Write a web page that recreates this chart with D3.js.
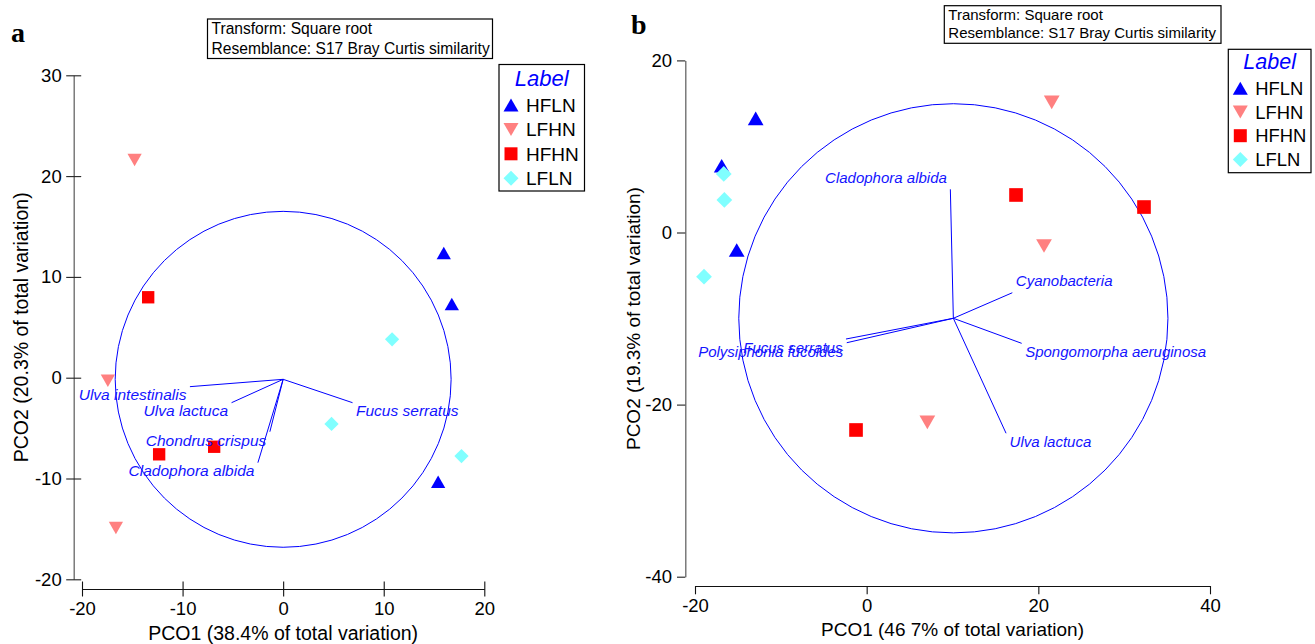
<!DOCTYPE html>
<html>
<head>
<meta charset="utf-8">
<script src="https://cdn.jsdelivr.net/npm/d3@7"></script>
<style>
  html, body { margin: 0; padding: 0; background: #fff; }
  svg { display: block; }
</style>
</head>
<body>
<svg id="chart" width="1315" height="644"></svg>
<script>
// ---------- data ----------
const groups = ["HFLN", "LFHN", "HFHN", "LFLN"];

// Panel a: PCO scores (PCO1, PCO2) and group of each sample
const aPco1  = [15.97, 16.77, 15.41, -14.77, -17.43, -16.63, -13.42, -12.33, -6.86, 10.83, 4.81, 17.73];
const aPco2  = [12.37, 7.31, -10.32, 21.6, -0.30, -14.91, 7.98, -7.6, -6.85, 3.81, -4.59, -7.77];
const aGroup = ["HFLN", "HFLN", "HFLN", "LFHN", "LFHN", "LFHN", "HFHN", "HFHN", "HFHN", "LFLN", "LFLN", "LFLN"];
// Panel a: species vectors (end points) drawn from the vector origin
const aVecNames = ["Ulva intestinalis", "Ulva lactuca", "Fucus serratus", "Chondrus crispus", "Cladophora albida"];
const aVecX = [-9.27, -5.13, 6.9, -1.32, -2.51];
const aVecY = [-0.89, -2.48, -2.48, -5.36, -8.43];
const aOrigin = [0, -0.16];
const aCircleR = 16.7;
const aXTicks = [-20, -10, 0, 10, 20];
const aYTicks = [-20, -10, 0, 10, 20, 30];
const aXTitle = "PCO1 (38.4% of total variation)";
const aYTitle = "PCO2 (20.3% of total variation)";

// Panel b
const bPco1  = [-12.93, -16.89, -15.14, 21.56, 20.66, 7.07, 17.4, 32.31, -1.24, -16.65, -16.58, -18.95];
const bPco2  = [13.27, 7.76, -2.03, 15.13, -1.57, -22.06, 4.36, 2.96, -22.95, 6.8, 3.78, -5.14];
const bGroup = ["HFLN", "HFLN", "HFLN", "LFHN", "LFHN", "LFHN", "HFHN", "HFHN", "HFHN", "LFLN", "LFLN", "LFLN"];
const bVecNames = ["Cladophora albida", "Cyanobacteria", "Spongomorpha aeruginosa", "Ulva lactuca", "Fucus serratus", "Polysiphonia fucoides"];
const bVecX = [9.75, 16.97, 18.06, 16.24, -2.41, -2.32];
const bVecY = [5.02, -7.0, -12.88, -23.33, -12.38, -12.81];
const bOrigin = [10.1, -9.97];
const bCircleR = 25.0;
const bXTicks = [-20, 0, 20, 40];
const bYTicks = [-40, -20, 0, 20];
const bXTitle = "PCO1 (46 7% of total variation)";
const bYTitle = "PCO2 (19.3% of total variation)";

const infoLines = ["Transform: Square root", "Resemblance: S17 Bray Curtis similarity"];
const legendTitle = "Label";

// ---------- styles ----------
const groupColor = { HFLN: "#0000ff", LFHN: "#ff8080", HFHN: "#ff0000", LFLN: "#80ffff" };
const SANS = "'Liberation Sans', Arial, sans-serif";
const SERIF = "'Liberation Serif', 'Times New Roman', serif";

// custom marker shapes (w = width, h = height in px)
function triUp(w, h) {
  return { draw(c) { c.moveTo(0, -h / 2); c.lineTo(w / 2, h / 2); c.lineTo(-w / 2, h / 2); c.closePath(); } };
}
function triDown(w, h) {
  return { draw(c) { c.moveTo(0, h / 2); c.lineTo(w / 2, -h / 2); c.lineTo(-w / 2, -h / 2); c.closePath(); } };
}
function square(s) {
  return { draw(c) { c.rect(-s / 2, -s / 2, s, s); } };
}
function diamond(w) {
  return { draw(c) { c.moveTo(0, -w / 2); c.lineTo(w / 2, 0); c.lineTo(0, w / 2); c.lineTo(-w / 2, 0); c.closePath(); } };
}
function shapesFor(k) {
  return {
    HFLN: triUp(15 * k, 13 * k),
    LFHN: triDown(15 * k, 13 * k),
    HFHN: square(13 * k),
    LFLN: diamond(15 * k)
  };
}

const svg = d3.select("#chart");

function drawPanel(p) {
  const g = svg.append("g");
  const x = d3.scaleLinear().domain(p.xDomain).range(p.xRange);
  const y = d3.scaleLinear().domain(p.yDomain).range(p.yRange);
  const shapes = shapesFor(p.markScale);

  // panel letter
  g.append("text").attr("x", p.letter.x).attr("y", p.letter.y)
    .attr("font-family", SERIF).attr("font-weight", "bold").attr("font-size", 28)
    .text(p.letter.t);

  // x axis
  const xAxis = g.append("g").attr("transform", `translate(0,${p.xAxisY})`)
    .call(d3.axisBottom(x).tickValues(p.xTicks).tickFormat(d => String(d))
      .tickSize(p.tick).tickSizeOuter(0).tickPadding(p.xPad));
  xAxis.selectAll("path.domain").attr("stroke", "#111").attr("stroke-width", 1.1);
  xAxis.selectAll(".tick line").attr("stroke", "#111").attr("stroke-width", 1.1);
  if (p.crossTicks) xAxis.selectAll(".tick line").attr("y1", -p.tick);
  xAxis.selectAll("text").attr("font-family", SANS).attr("font-size", p.tickFont).attr("fill", "#000");

  // y axis
  const yAxis = g.append("g").attr("transform", `translate(${p.yAxisX},0)`)
    .call(d3.axisLeft(y).tickValues(p.yTicks).tickFormat(d => String(d))
      .tickSize(p.tick).tickSizeOuter(0).tickPadding(p.yPad));
  yAxis.selectAll("path.domain").attr("stroke", "#666").attr("stroke-width", 1.3);
  yAxis.selectAll(".tick line").attr("stroke", "#222").attr("stroke-width", 1.1);
  if (p.crossTicks) yAxis.selectAll(".tick line").attr("x1", p.tick);
  yAxis.selectAll("text").attr("font-family", SANS).attr("font-size", p.tickFont).attr("fill", "#000");

  // axis titles
  g.append("text")
    .attr("x", (p.xRange[0] + p.xRange[1]) / 2).attr("y", p.xTitleY)
    .attr("text-anchor", "middle").attr("dominant-baseline", "central")
    .attr("font-family", SANS).attr("font-size", p.titleFont).text(p.xTitle);
  g.append("text")
    .attr("transform", `translate(${p.yTitleX},${(p.yRange[0] + p.yRange[1]) / 2}) rotate(-90)`)
    .attr("text-anchor", "middle").attr("dominant-baseline", "central")
    .attr("font-family", SANS).attr("font-size", p.titleFont).text(p.yTitle);

  // vector circle
  const ox = x(p.origin[0]), oy = y(p.origin[1]);
  g.append("circle").attr("cx", ox).attr("cy", oy)
    .attr("r", x(p.circleR) - x(0))
    .attr("fill", "none").attr("stroke", "#0000ff").attr("stroke-width", 1);

  // samples
  g.append("g").selectAll("path")
    .data(p.pco1.map((v, i) => ({ x: v, y: p.pco2[i], grp: p.group[i] })))
    .join("path")
    .attr("transform", d => `translate(${x(d.x)},${y(d.y)})`)
    .attr("d", d => d3.symbol().type(shapes[d.grp])())
    .attr("fill", d => groupColor[d.grp]);

  // species vectors
  const vecs = p.vecNames.map((n, i) => ({ name: n, x: p.vecX[i], y: p.vecY[i] }));
  const vg = g.append("g");
  vg.selectAll("line").data(vecs).join("line")
    .attr("x1", ox).attr("y1", oy)
    .attr("x2", d => x(d.x)).attr("y2", d => y(d.y))
    .attr("stroke", "#0000ff").attr("stroke-width", 1);
  vg.selectAll("text").data(vecs).join("text")
    .attr("x", d => x(d.x) + (x(d.x) < ox ? -3.5 : 3.5))
    .attr("y", d => y(d.y) + (y(d.y) > oy ? 13.8 : -6.5))
    .attr("text-anchor", d => (x(d.x) < ox ? "end" : "start"))
    .attr("font-family", SANS).attr("font-style", "italic")
    .attr("font-size", p.vecFont).attr("fill", "#1414ff")
    .text(d => d.name);

  // info box
  const ib = p.info;
  g.append("rect").attr("x", ib.x).attr("y", ib.y).attr("width", ib.w).attr("height", ib.h)
    .attr("fill", "#fff").attr("stroke", "#000").attr("stroke-width", 1.2);
  g.append("g").selectAll("text").data(infoLines).join("text")
    .attr("x", ib.x + 4).attr("y", (d, i) => ib.y + ib.base[i])
    .attr("font-family", SANS).attr("font-size", ib.font).text(d => d);

  // legend
  const lg = p.legend;
  g.append("rect").attr("x", lg.x).attr("y", lg.y).attr("width", lg.w).attr("height", lg.h)
    .attr("fill", "#fff").attr("stroke", "#000").attr("stroke-width", 1.2);
  g.append("text").attr("x", lg.x + lg.w / 2).attr("y", lg.y + lg.titleBase)
    .attr("text-anchor", "middle").attr("font-family", SANS).attr("font-style", "italic")
    .attr("font-size", lg.titleFont).attr("fill", "#0000ff").text(legendTitle);
  const items = g.append("g").selectAll("g").data(groups).join("g")
    .attr("transform", (d, i) => `translate(${lg.x + 12},${lg.y + lg.first + i * lg.step})`);
  items.append("path")
    .attr("d", d => d3.symbol().type(shapesFor(lg.markScale)[d])())
    .attr("fill", d => groupColor[d]);
  items.append("text").attr("x", 15).attr("dy", "0.36em")
    .attr("font-family", SANS).attr("font-size", lg.font).text(d => d);
}

drawPanel({
  letter: { t: "a", x: 11, y: 41.5 },
  xDomain: [-20, 20], xRange: [82, 484.3],
  yDomain: [-20, 30], yRange: [579.3, 75.3],
  xAxisY: 589, yAxisX: 73.7, tick: 7.5, crossTicks: true, xPad: 5, yPad: 4.5,
  xTicks: aXTicks, yTicks: aYTicks, tickFont: 18.5, titleFont: 19.5,
  xTitle: aXTitle, yTitle: aYTitle, xTitleY: 633, yTitleX: 21,
  pco1: aPco1, pco2: aPco2, group: aGroup, markScale: 0.95,
  vecNames: aVecNames, vecX: aVecX, vecY: aVecY, origin: aOrigin, circleR: aCircleR, vecFont: 15.5,
  info: { x: 207.5, y: 19, w: 285, h: 39.5, base: [15, 34.5], font: 15.6 },
  legend: { x: 499, y: 64.5, w: 85.5, h: 126.5, titleBase: 21, titleFont: 22, first: 40.5, step: 24.4, font: 19, markScale: 1 }
});

drawPanel({
  letter: { t: "b", x: 631, y: 34.3 },
  xDomain: [-20, 40], xRange: [695, 1210],
  yDomain: [-40, 20], yRange: [576.7, 60.4],
  xAxisY: 586, yAxisX: 685.3, tick: 8.3, crossTicks: false, xPad: 5, yPad: 5,
  xTicks: bXTicks, yTicks: bYTicks, tickFont: 18.5, titleFont: 19,
  xTitle: bXTitle, yTitle: bYTitle, xTitleY: 629.5, yTitleX: 633,
  pco1: bPco1, pco2: bPco2, group: bGroup, markScale: 1.05,
  vecNames: bVecNames, vecX: bVecX, vecY: bVecY, origin: bOrigin, circleR: bCircleR, vecFont: 15,
  info: { x: 944.3, y: 5.7, w: 276.7, h: 37.6, base: [13.8, 32.3], font: 15 },
  legend: { x: 1228.3, y: 49.3, w: 82.7, h: 123.4, titleBase: 20, titleFont: 21.5, first: 39, step: 23.7, font: 18.4, markScale: 1 }
});
</script>
</body>
</html>
